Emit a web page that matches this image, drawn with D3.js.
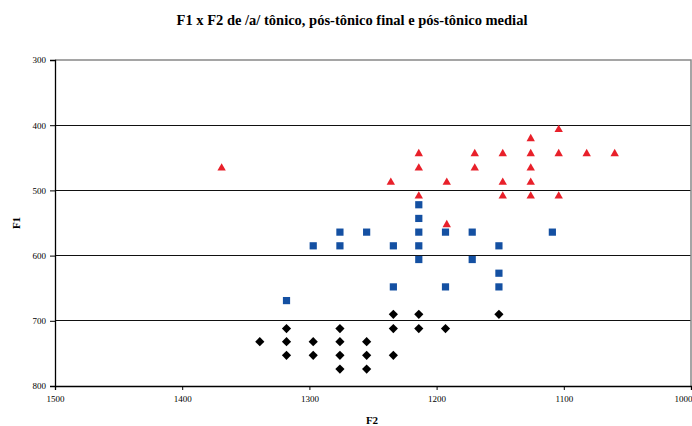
<!DOCTYPE html>
<html><head><meta charset="utf-8">
<script src="https://cdn.jsdelivr.net/npm/d3@7"></script>
<style>body{margin:0;background:#fff}svg{display:block}</style>
</head><body>
<svg id="c" width="692" height="426"></svg>
<script>
const title = "F1 x F2 de /a/ tônico, pós-tônico final e pós-tônico medial";
const xTicks = [1500, 1400, 1300, 1200, 1100, 1000];
const yTicks = [300, 400, 500, 600, 700, 800];
// pós-tônico final (red triangles): [F2, F1]
const posTonicoFinal = [
  [1369,464],[1214,442],[1214,464],[1236,486],[1214,507],
  [1104,405],[1126,419],
  [1170,442],[1148,442],[1126,442],[1104,442],[1082,442],[1060,442],
  [1170,464],[1126,464],
  [1192,486],[1148,486],[1126,486],
  [1148,507],[1126,507],[1104,507],
  [1192,551]
];
// pós-tônico medial (blue squares)
const posTonicoMedial = [
  [1214,522],[1214,543],
  [1276,564],[1255,564],[1214,564],[1193,564],[1172,564],[1109,564],
  [1297,585],[1276,585],[1234,585],[1214,585],[1151,585],
  [1214,606],[1172,606],
  [1151,627],
  [1234,648],[1193,648],[1151,648],
  [1318,669]
];
// tônico (black diamonds)
const tonico = [
  [1234,690],[1214,690],[1151,690],
  [1318,712],[1276,712],[1234,712],[1214,712],[1193,712],
  [1339,732],[1318,732],[1297,732],[1276,732],[1255,732],
  [1318,753],[1297,753],[1276,753],[1255,753],[1234,753],
  [1276,774],[1255,774]
];

const svg = d3.select("#c");
const L = 55, R = 691, T = 60, B = 386;
const x = d3.scaleLinear().domain([1500, 1000]).range([L, R]);
const y = d3.scaleLinear().domain([300, 800]).range([T, B]);

// title
svg.append("text").attr("x", 352).attr("y", 25).attr("text-anchor", "middle")
  .attr("font-family", "Liberation Serif, Times New Roman, serif")
  .attr("font-weight", "bold").attr("font-size", 14.5).attr("fill", "#000")
  .text(title);

// gridlines
svg.append("g").selectAll("line").data(yTicks.slice(1, -1)).join("line")
  .attr("x1", L).attr("x2", R).attr("y1", d => y(d)).attr("y2", d => y(d))
  .attr("stroke", "#111").attr("stroke-width", 1.2).attr("shape-rendering", "crispEdges");
// plot border top/right
svg.append("path").attr("d", `M${L},${y(300)}H${R}V${B}`).attr("fill", "none")
  .attr("stroke", "#888").attr("stroke-width", 1.5);

// axes
const fmt = d3.format("d");
const yAxis = d3.axisLeft(y).tickValues(yTicks).tickFormat(fmt).tickSize(5).tickPadding(4);
const gy = svg.append("g").attr("transform", `translate(${L},0)`).call(yAxis);
const xAxis = d3.axisBottom(x).tickValues(xTicks).tickFormat(fmt).tickSize(4).tickPadding(4);
const gx = svg.append("g").attr("transform", `translate(0,${B})`).call(xAxis);
[gx, gy].forEach(g => {
  g.select(".domain").attr("stroke", "#000").attr("stroke-width", 1.3);
  g.selectAll(".tick line").attr("stroke", "#000");
  g.selectAll(".tick text").attr("font-family", "Liberation Serif, Times New Roman, serif")
    .attr("font-size", 9).attr("fill", "#000");
});
gx.selectAll(".tick text").attr("dy", "0.9em");
// last x label sits against the right edge
gx.selectAll(".tick text").filter(d => d === xTicks[xTicks.length - 1])
  .attr("text-anchor", "end").attr("x", 1);

// axis titles
svg.append("text").attr("x", 372).attr("y", 424).attr("text-anchor", "middle")
  .attr("font-family", "Liberation Serif, serif").attr("font-weight", "bold").attr("font-size", 11)
  .text("F2");
svg.append("text").attr("transform", "translate(20,223) rotate(-90)").attr("text-anchor", "middle")
  .attr("font-family", "Liberation Serif, serif").attr("font-weight", "bold").attr("font-size", 11)
  .text("F1");

// markers
svg.append("g").selectAll("path").data(tonico).join("path")
  .attr("d", d => `M${x(d[0])},${y(d[1]) - 4.6}l4.6,4.6l-4.6,4.6l-4.6,-4.6z`)
  .attr("fill", "#000");
svg.append("g").selectAll("rect").data(posTonicoMedial).join("rect")
  .attr("x", d => x(d[0]) - 3.6).attr("y", d => y(d[1]) - 3.6)
  .attr("width", 7.2).attr("height", 7.2).attr("fill", "#1450A2");
svg.append("g").selectAll("path").data(posTonicoFinal).join("path")
  .attr("d", d => `M${x(d[0])},${y(d[1]) - 3.8}l4.2,7.4h-8.4z`)
  .attr("fill", "#E8202A");
</script>
</body></html>
